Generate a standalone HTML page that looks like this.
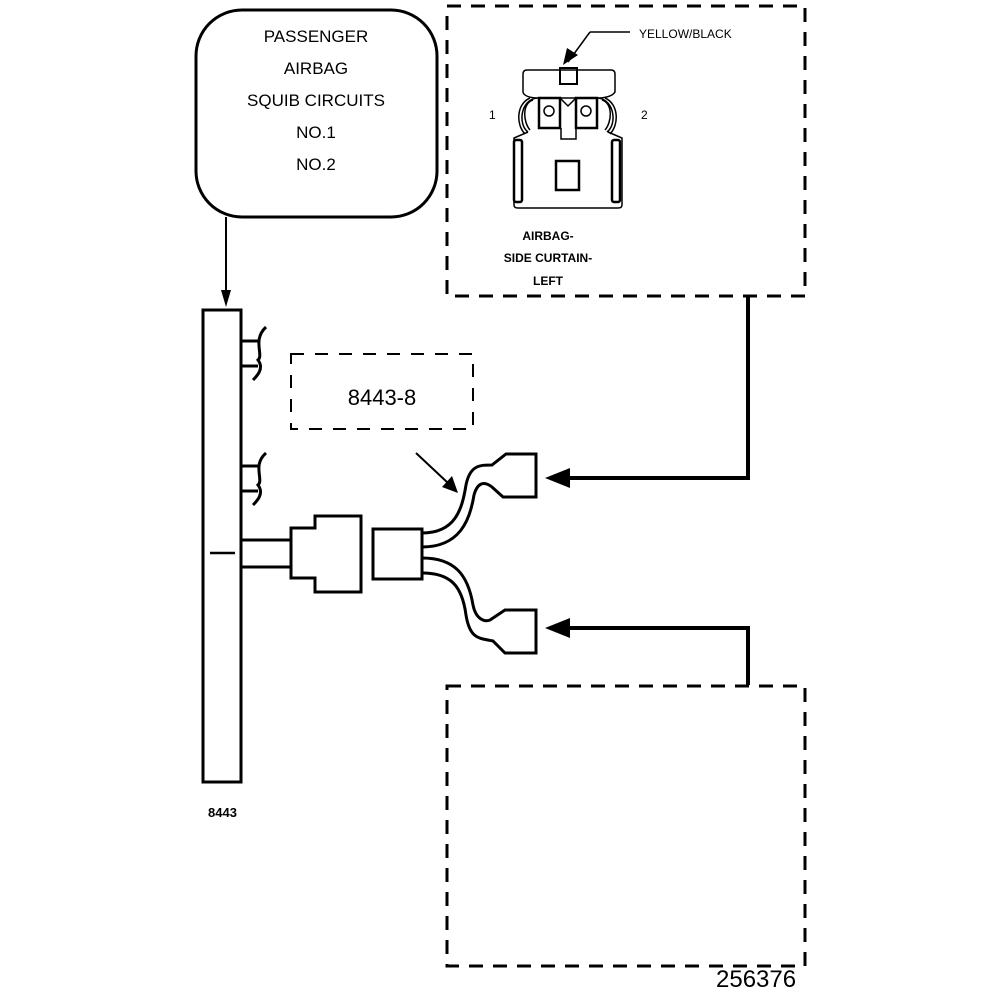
<!DOCTYPE html>
<html><head><style>html,body{margin:0;padding:0;background:#fff}svg{display:block}</style></head>
<body>
<svg width="1008" height="1000" viewBox="0 0 1008 1000" xmlns="http://www.w3.org/2000/svg" font-family="Liberation Sans, Arial, sans-serif">
<rect width="1008" height="1000" fill="#fff"/>
<rect x="196" y="10" width="241" height="207" rx="46" fill="none" stroke="#000" stroke-width="3"/>
<g font-size="17" text-anchor="middle" fill="#000">
<text x="316" y="42">PASSENGER</text>
<text x="316" y="74">AIRBAG</text>
<text x="316" y="106">SQUIB CIRCUITS</text>
<text x="316" y="138">NO.1</text>
<text x="316" y="170">NO.2</text>
</g>
<line x1="226" y1="217" x2="226" y2="292" stroke="#000" stroke-width="2"/>
<polygon points="221,290 231,290 226,307" fill="#000"/>
<rect x="203" y="310" width="38" height="472" fill="none" stroke="#000" stroke-width="3"/>
<line x1="210" y1="553" x2="235" y2="553" stroke="#000" stroke-width="2.5"/>
<g fill="none" stroke="#000" stroke-width="3">
<line x1="241" y1="341" x2="258" y2="341"/><line x1="241" y1="366" x2="258" y2="366"/>
<path d="M266,327 C252,340 264,355 258,360 C264,368 258,375 253,380"/>
<line x1="241" y1="466" x2="258" y2="466"/><line x1="241" y1="491" x2="258" y2="491"/>
<path d="M266,453 C252,465 264,480 258,485 C264,493 258,500 253,505"/>
<line x1="241" y1="540" x2="291" y2="540"/><line x1="241" y1="567" x2="291" y2="567"/>
<path d="M291,528 H315 V516 H361 V592 H315 V578 H291 Z"/>
<rect x="373" y="529" width="49" height="50"/>
<path d="M422,533 C455,533 462,510 466,485 C470,465 480,465 492,465 L506,454 H536 V497 H503 L492,487 C483,480 477,484 474,495 C470,520 460,547 422,547"/>
<path d="M422,558 C455,558 468,575 473,605 C476,620 485,622 490,620 L505,610 H536 V653 H505 L493,641 C480,638 470,640 466,615 C462,585 450,573 422,573"/>
</g>
<rect x="291" y="354" width="182" height="75" fill="none" stroke="#000" stroke-width="2" stroke-dasharray="13,11"/>
<text x="382" y="405" font-size="22" text-anchor="middle">8443-8</text>
<line x1="416" y1="453" x2="448" y2="483" stroke="#000" stroke-width="2"/>
<polygon points="442,487 452,476 458,493" fill="#000"/>
<rect x="447" y="6" width="358" height="290" fill="none" stroke="#000" stroke-width="3" stroke-dasharray="14,10"/>
<rect x="447" y="686" width="358" height="280" fill="none" stroke="#000" stroke-width="3" stroke-dasharray="14,10"/>
<polyline points="748,297 748,478 568,478" fill="none" stroke="#000" stroke-width="4"/>
<polygon points="545,478 570,468 570,488" fill="#000"/>
<polyline points="748,685 748,628 568,628" fill="none" stroke="#000" stroke-width="4"/>
<polygon points="545,628 570,618 570,638" fill="#000"/>
<g fill="none" stroke="#000" stroke-width="1.5">
<path d="M527,70 H611 Q615,70 615,74 V92 Q612,97 600,98 H536 Q524,97 523,92 V74 Q523,70 527,70 Z"/>
<rect x="560" y="68" width="17" height="16" stroke-width="2"/>
<rect x="539" y="98" width="21" height="30" stroke-width="2.5"/>
<rect x="576" y="98" width="21" height="30" stroke-width="2.5"/>
<circle cx="549" cy="111" r="5"/><circle cx="586" cy="111" r="5"/>
<path d="M560,98 L568,106 L576,98"/>
<path d="M561,128 V139 H576 V128"/>
<path d="M537,98 C520,100 518,125 528,132 M533,100 C522,103 523,122 530,130 M530,98 C516,104 516,125 525,134"/>
<path d="M598,98 C615,100 617,125 607,132 M602,100 C613,103 612,122 605,130 M605,98 C619,104 619,125 610,134"/>
<path d="M528,132 L514,138 V205 Q514,208 518,208 H618 Q622,208 622,205 V138 L608,132"/>
<rect x="514" y="140" width="8" height="62" rx="2" stroke-width="2.5"/>
<rect x="612" y="140" width="8" height="62" rx="2" stroke-width="2.5"/>
<rect x="556" y="161" width="23" height="29" stroke-width="2.5"/>
</g>
<line x1="568" y1="62" x2="590" y2="32" stroke="#000" stroke-width="1.5"/>
<polygon points="563,65 567,48 578,55" fill="#000"/>
<line x1="590" y1="32" x2="630" y2="32" stroke="#000" stroke-width="1.5"/>
<text x="639" y="38" font-size="12">YELLOW/BLACK</text>
<text x="489" y="119" font-size="12">1</text>
<text x="641" y="119" font-size="12">2</text>
<g font-size="12" font-weight="bold" text-anchor="middle">
<text x="548" y="240">AIRBAG-</text>
<text x="548" y="262">SIDE CURTAIN-</text>
<text x="548" y="285">LEFT</text>
</g>
<text x="208" y="817" font-size="13" font-weight="bold">8443</text>
<text x="716" y="987" font-size="24">256376</text>
</svg>
</body></html>
